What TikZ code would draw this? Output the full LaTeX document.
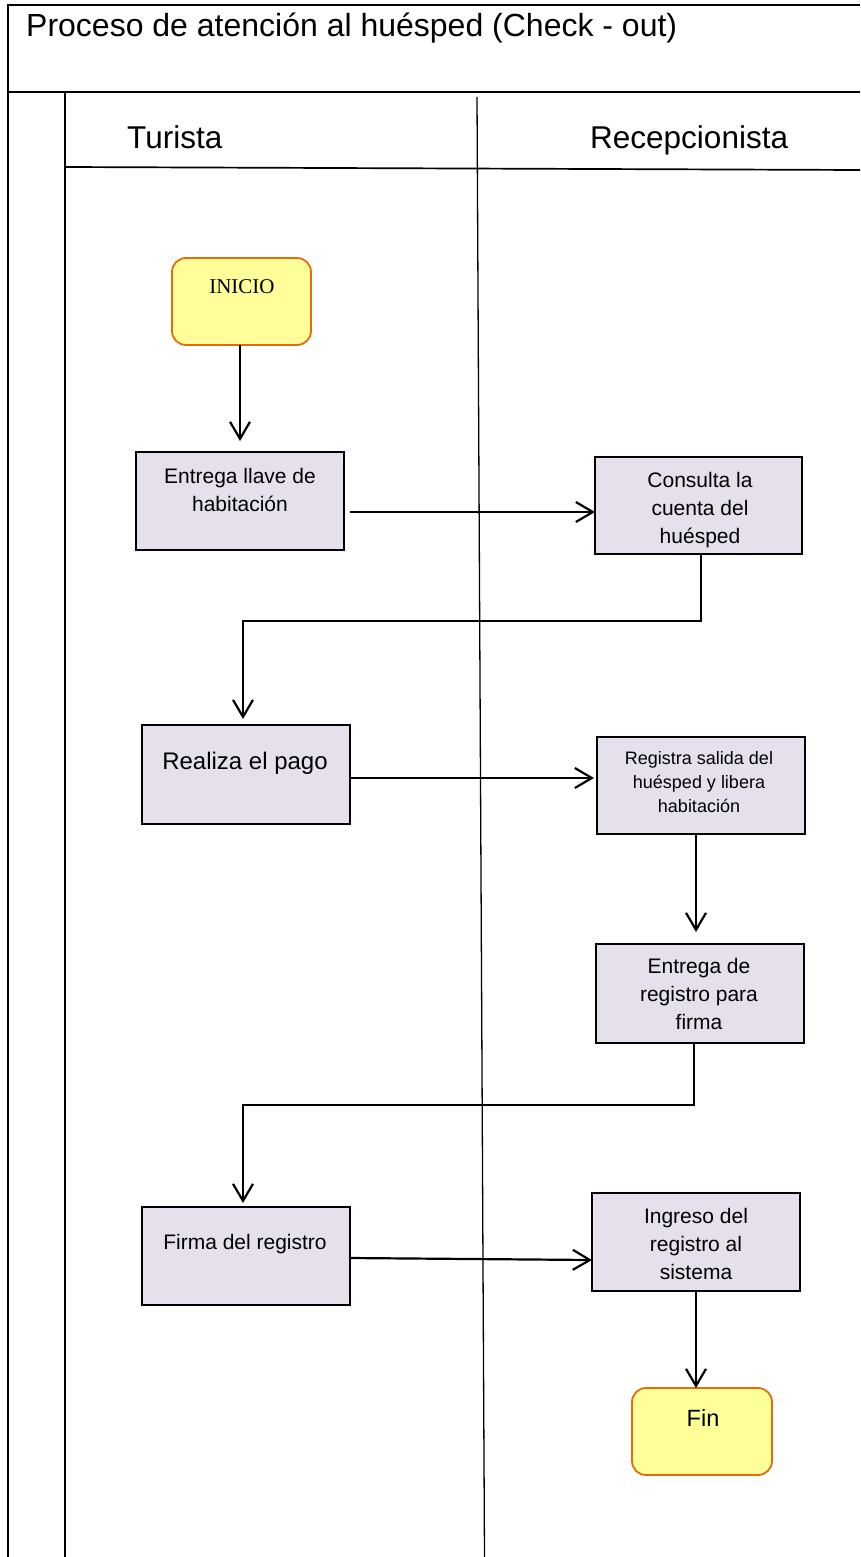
\documentclass[tikz,border=0pt]{standalone}
\usepackage{fontspec}
\setmainfont{Liberation Sans}
\newfontfamily\timesf{Liberation Serif}
\usetikzlibrary{arrows.meta,calc}
\definecolor{boxfill}{HTML}{E5E0EC}
\definecolor{termfill}{HTML}{FFFF99}
\definecolor{termline}{HTML}{E46C0A}
\tikzset{
  frameline/.style={line width=1.7pt, black},
  laneline/.style={line width=1.3pt, black},
  procbox/.style={draw=black, line width=1.8pt, fill=boxfill, anchor=north west, inner sep=0pt, outer sep=0pt, minimum width=208pt, minimum height=98pt},
  termbox/.style={draw=termline, line width=1.8pt, fill=termfill, rounded corners=14pt, anchor=north west, inner sep=0pt, outer sep=0pt, minimum width=139pt, minimum height=87pt},
  txt/.style={anchor=north, inner sep=0pt, align=center, font=\fontsize{21}{27.5}\selectfont},
  head/.style={anchor=base west, inner sep=0pt, font=\fontsize{31.5}{36}\selectfont},
  arr/.style={line width=2.2pt, -{Straight Barb[length=17pt,width=20pt]}}
}
\begin{document}
\begin{tikzpicture}[x=1pt,y=-1pt]
\useasboundingbox (0,0) rectangle (860,1557);
% frame
\draw[frameline] (8,1557) -- (8,5) -- (860,5);
\draw[frameline] (8,92) -- (860,92);
\draw[frameline] (65,92) -- (65,1557);
\draw[frameline] (65,167) -- (860,170);
\draw[laneline] (477,97) -- (484.5,1557);
% headers
\node[head, font=\fontsize{32}{36}\selectfont] (title) at (26,37) {Proceso de atención al huésped (Check - out)};
\node[head] (hturista) at (127,149) {Turista};
\node[head] (hrecep) at (590,149) {Recepcionista};
% boxes
\node[termbox] (ini) at (172,258) {};
\node[procbox] (e1) at (136,452) {};
\node[procbox, minimum width=207pt, minimum height=97pt] (c1) at (595,457) {};
\node[procbox, minimum height=99pt] (r1) at (142,725) {};
\node[procbox, minimum height=97pt] (g1) at (597,737) {};
\node[procbox, minimum height=99pt] (f1) at (596,944) {};
\node[procbox] (fr) at (142,1207) {};
\node[procbox, minimum height=98pt] (in) at (592,1193) {};
\node[termbox, minimum width=140pt] (fin) at (632,1388) {};
% texts
\node[txt, font=\timesf\fontsize{21}{27}\selectfont] (tini) at (242,279) {INICIO};
\node[txt] (te1) at (240,468.5) {Entrega llave de\\habitación};
\node[txt, font=\fontsize{21}{28}\selectfont] (tc1) at (700,472.5) {Consulta la\\cuenta del\\huésped};
\node[txt, font=\fontsize{24}{28}\selectfont] (tr1) at (245,751.5) {Realiza el pago};
\node[txt, font=\fontsize{18}{24}\selectfont] (tg1) at (699,751.5) {Registra salida del\\huésped y libera\\habitación};
\node[txt, font=\fontsize{21}{28}\selectfont] (tf1) at (699,958.5) {Entrega de\\registro para\\firma};
\node[txt] (tfr) at (245,1234.5) {Firma del registro};
\node[txt, font=\fontsize{21}{28}\selectfont] (tin) at (696,1208.5) {Ingreso del\\registro al\\sistema};
\node[txt, font=\fontsize{23.5}{28}\selectfont] (tfin) at (703,1409) {Fin};
% connectors
\draw[arr] (ini.south -| 240,0) -- ($(e1.north)+(0,-11)$);
\draw[arr] ($(e1.east)+(6,11)$) -- (c1.west |- 0,512);
\draw[arr] (c1.south -| 701,0) -- (701,621) -- (243,621) -- ($(r1.north)+(-3,-6)$);
\draw[arr] (r1.east |- 0,778) -- ($(g1.west)+(-3,-7.5)$);
\draw[arr] (g1.south -| 696,0) -- ($(f1.north)+(-4,-12)$);
\draw[arr] (f1.south -| 694,0) -- (694,1105) -- (243,1105) -- ($(fr.north)+(-3,-4)$);
\draw[arr] (fr.east |- 0,1258) -- (in.west |- 0,1260);
\draw[arr] (in.south -| 696,0) -- (fin.north -| 696,0);
\end{tikzpicture}
\end{document}
